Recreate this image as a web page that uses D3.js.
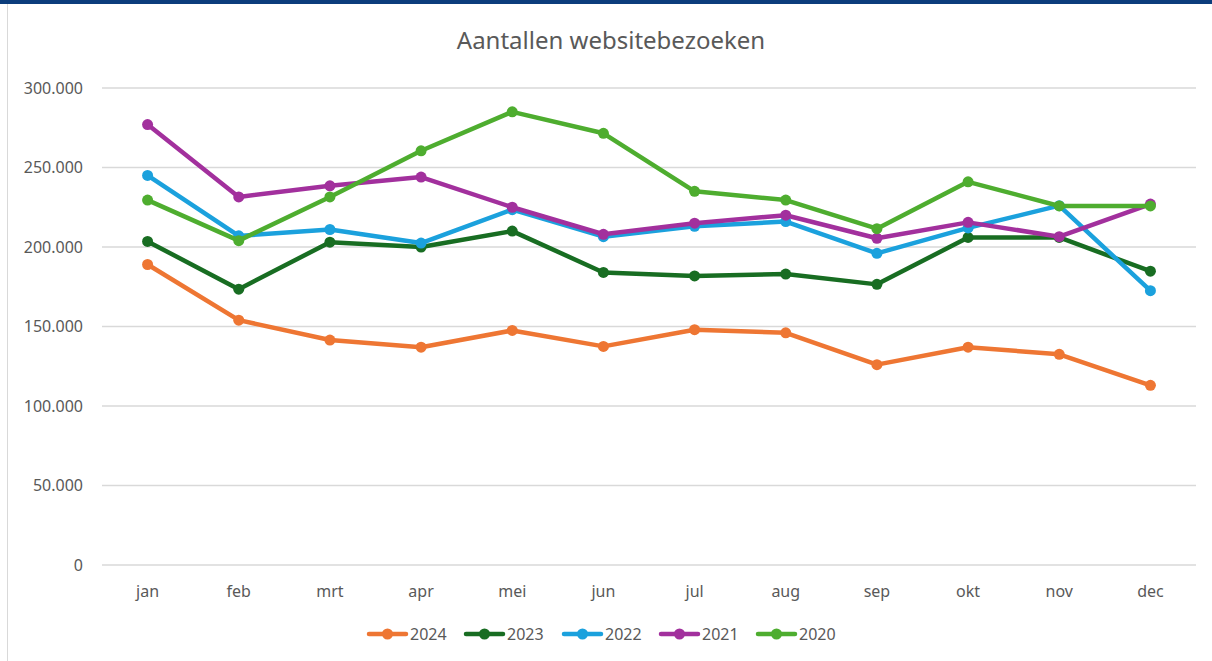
<!DOCTYPE html>
<html>
<head>
<meta charset="utf-8">
<script src="https://cdn.jsdelivr.net/npm/d3@7"></script>
<style>
  body { margin: 0; background: #fff; }
  svg { display: block; font-family: "Noto Sans", "Open Sans", sans-serif; }
</style>
</head>
<body>
<figure id="linechart" style="margin:0"></figure>
<script>
const months = ["jan", "feb", "mrt", "apr", "mei", "jun", "jul", "aug", "sep", "okt", "nov", "dec"];
const yTicks = [0, 50000, 100000, 150000, 200000, 250000, 300000];

const y2024 = [189000, 154000, 141500, 137000, 147500, 137500, 148000, 146000, 126000, 137000, 132500, 113000];
const y2023 = [203500, 173500, 203000, 200000, 210000, 184000, 181800, 183000, 176500, 206000, 206000, 184800];
const y2022 = [245000, 207000, 211000, 202500, 223500, 206500, 213000, 216000, 196000, 212000, 226000, 172500];
const y2021 = [277000, 231500, 238500, 244000, 225000, 208000, 215000, 220000, 205500, 215500, 206500, 227000];
const y2020 = [229500, 204000, 231500, 260500, 285000, 271500, 235000, 229500, 211500, 241000, 225800, 225800];

const seriesNames = ["2024", "2023", "2022", "2021", "2020"];
const seriesValues = [y2024, y2023, y2022, y2021, y2020];
const seriesColors = ["#ee7633", "#186d22", "#1ba1dd", "#a2309d", "#4ead2f"];

const width = 1212, height = 661;
const plotLeft = 102, plotRight = 1196, plotTop = 88, plotBottom = 565;

const svg = d3.select("figure#linechart")
  .append("svg")
  .attr("width", width)
  .attr("height", height);

// frame: dark top bar and grey left edge
svg.append("rect").attr("x", 0).attr("y", 0).attr("width", width).attr("height", 4).attr("fill", "#0c3d7c");
svg.append("line").attr("x1", 7.5).attr("x2", 7.5).attr("y1", 4).attr("y2", height)
  .attr("stroke", "#d9d9d9").attr("stroke-width", 1);

const x = d3.scaleBand().domain(months).range([plotLeft, plotRight]);
const y = d3.scaleLinear().domain([0, 300000]).range([plotBottom, plotTop]);

const fmt = d => d === 0 ? "0" : d3.format(",")(d).replace(/,/g, ".");

// gridlines
svg.append("g")
  .selectAll("line")
  .data(yTicks)
  .join("line")
  .attr("x1", plotLeft).attr("x2", plotRight)
  .attr("y1", d => y(d)).attr("y2", d => y(d))
  .attr("stroke", "#d9d9d9").attr("stroke-width", 1.5);

// y axis labels
const yAxis = svg.append("g")
  .attr("transform", `translate(${plotLeft - 16},0)`)
  .call(d3.axisLeft(y).tickValues(yTicks).tickFormat(fmt).tickSize(0));
yAxis.select(".domain").remove();
yAxis.selectAll("text").attr("font-size", 16).attr("fill", "#595959").attr("font-family", "Noto Sans");

// x axis labels
const xAxis = svg.append("g")
  .attr("transform", `translate(0,${plotBottom + 18})`)
  .call(d3.axisBottom(x).tickSize(0));
xAxis.select(".domain").remove();
xAxis.selectAll("text").attr("font-size", 16).attr("fill", "#595959").attr("font-family", "Noto Sans");

// title
svg.append("text")
  .attr("x", 611).attr("y", 49)
  .attr("text-anchor", "middle")
  .attr("font-size", 24)
  .attr("fill", "#595959")
  .text("Aantallen websitebezoeken");

const line = d3.line()
  .x((d, i) => x(months[i]) + x.bandwidth() / 2)
  .y(d => y(d));

seriesValues.forEach((vals, s) => {
  const g = svg.append("g");
  g.append("path")
    .datum(vals)
    .attr("fill", "none")
    .attr("stroke", seriesColors[s])
    .attr("stroke-width", 4.5)
    .attr("stroke-linejoin", "round")
    .attr("stroke-linecap", "round")
    .attr("d", line);
  g.selectAll("circle")
    .data(vals)
    .join("circle")
    .attr("cx", (d, i) => x(months[i]) + x.bandwidth() / 2)
    .attr("cy", d => y(d))
    .attr("r", 5.5)
    .attr("fill", seriesColors[s]);
});

// legend
const legendX = [367, 464, 562, 659, 756];
const legend = svg.append("g").attr("transform", "translate(0,634)");
seriesNames.forEach((name, s) => {
  const lg = legend.append("g").attr("transform", `translate(${legendX[s]},0)`);
  lg.append("line").attr("x1", 2).attr("x2", 39).attr("y1", 0).attr("y2", 0)
    .attr("stroke", seriesColors[s]).attr("stroke-width", 4.5).attr("stroke-linecap", "round");
  lg.append("circle").attr("cx", 20.5).attr("cy", 0).attr("r", 5.5).attr("fill", seriesColors[s]);
  lg.append("text").attr("x", 43).attr("y", 6).attr("font-size", 16).attr("fill", "#595959").text(name);
});
</script>
</body>
</html>
